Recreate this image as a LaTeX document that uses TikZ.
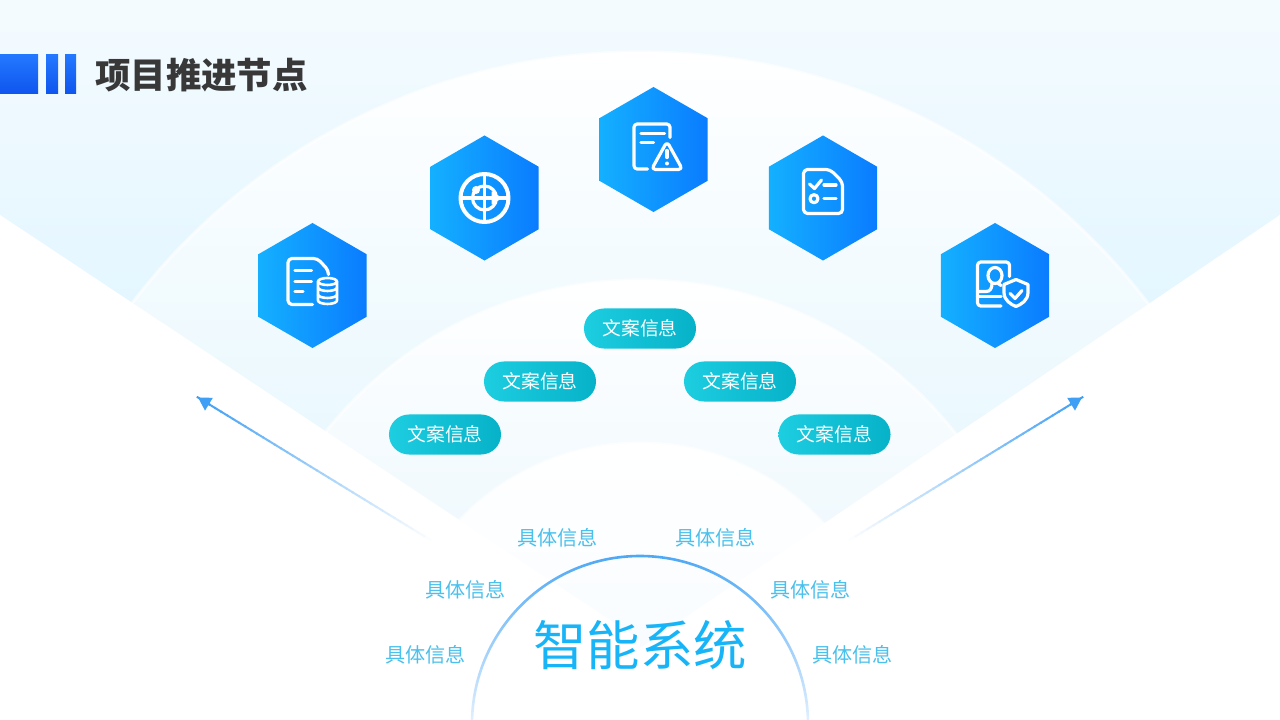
\documentclass[tikz,border=0pt]{standalone}
\usepackage{fontspec}
\newfontfamily\cjk{Noto Sans CJK SC}
\usetikzlibrary{shapes.geometric, shapes.misc, arrows.meta, calc}
\definecolor{sky}{HTML}{E3F6FF}
\definecolor{skytop}{HTML}{F4FBFF}
\definecolor{fanA}{HTML}{EAF8FE}
\definecolor{fanB}{HTML}{F0F9FE}
\definecolor{fanC}{HTML}{F8FCFF}
\definecolor{hexleft}{HTML}{14B0FF}
\definecolor{hexright}{HTML}{0A7CFF}
\definecolor{pillleft}{HTML}{1DCDE0}
\definecolor{pillright}{HTML}{06B2C8}
\definecolor{infotext}{HTML}{4AC0EC}
\definecolor{systext}{HTML}{18B4F8}
\definecolor{arrowblue}{HTML}{3F9FF5}
\definecolor{ringtop}{HTML}{4DA8F5}
\definecolor{ringbottom}{HTML}{E4F1FF}
\definecolor{bartop}{HTML}{2278FF}
\definecolor{barbottom}{HTML}{0F55EE}
\tikzset{
  hexbox/.style={regular polygon, regular polygon sides=6, regular polygon rotate=30,
    minimum size=3.125cm, inner sep=0pt, outer sep=0pt, left color=hexleft, right color=hexright},
  pillbox/.style={rounded rectangle, minimum width=2.8cm, minimum height=1cm, inner sep=0pt,
    left color=pillleft, right color=pillright, text=white,
    font=\cjk\fontsize{13.4}{16}\selectfont},
  infolabel/.style={text=infotext, inner sep=0pt, font=\cjk\fontsize{14.3}{17}\selectfont},
  iconline/.style={draw=white, line width=.08cm, line cap=round, line join=round},
  barbox/.style={top color=bartop, bottom color=barbottom},
  arrowbody/.style={line width=.05cm}
}

\begin{document}
\begin{tikzpicture}[x=.025cm, y=-.025cm]
\useasboundingbox (0, 0) rectangle (1280, 720);
\fill[white] (0, 0) rectangle (1280, 720);
\shade[top color=skytop, bottom color=sky] (0, 0) rectangle (1280, 320);
\foreach \cy/\rad/\ytop/\ybot/\colbot in {691/639/52/440/fanA, 681/401/280/530/fanB, 692/249/443/660/fanC} {
  \begin{scope}
    \clip (640, \cy) circle[radius=\rad];
    \shade[top color=white, bottom color=\colbot] (0, \ytop) rectangle (1280, \ybot);
  \end{scope}
  \draw[white, opacity=.6, line width=.08cm] (640, \cy) circle[radius=\rad];
}
\fill[white] (0, 215) -- (640, 640) -- (640, 648) -- (1280, 215) -- (1280, 720) -- (0, 720) -- cycle;

\shade[barbox] (0, 55) rectangle (38, 94);
\shade[barbox] (46, 55) rectangle (58, 94);
\shade[barbox] (65, 55) rectangle (76, 94);
\node[text=black!78, inner sep=0pt, font=\cjk\bfseries\fontsize{25.2}{30}\selectfont] at (201.5, 75) (title) {项目推进节点};

\node[hexbox] at (312.5, 285.5) (hexdata) {};
\node[hexbox] at (484.5, 198) (hextarget) {};
\node[hexbox] at (653.5, 149.5) (hexalert) {};
\node[hexbox] at (823, 198) (hexcheck) {};
\node[hexbox] at (995, 285.5) (hexuser) {};

\begin{scope}[shift={(hexdata)}]
\draw[iconline, rounded corners=.1cm] (0, 19) -- (-24.5, 19) -- (-24.5, -27) -- (5, -27) -- (16, -15) -- (16, -11);
\draw[iconline] (-17.5, -15) -- (-1, -15) (-17.5, -4) -- (-1, -4) (-17.5, 6) -- (-9.5, 6);
\draw[iconline, line width=.065cm] (15, -4) ellipse[x radius=9.5, y radius=3.5];
\draw[iconline, line width=.065cm] (5.5, -4) -- (5.5, 15) arc[start angle=180, end angle=0, x radius=9.5, y radius=3.5] -- (24.5, -4);
\draw[iconline, line width=.065cm] (5.5, 2) arc[start angle=180, end angle=0, x radius=9.5, y radius=3.5];
\draw[iconline, line width=.065cm] (5.5, 9) arc[start angle=180, end angle=0, x radius=9.5, y radius=3.5];
\end{scope}

\begin{scope}[shift={(hextarget)}]
\draw[iconline, line width=.1cm] (0, 0) circle[radius=24];
\draw[iconline] (0, 0) circle[radius=12];
\draw[iconline] (-24, 0) -- (24, 0) (0, -24) -- (0, 24);
\fill[white] (-8.5, -8) circle[radius=4];
\fill[white] (7, -6.5) -- (18, 0) -- (7, 6.5) -- cycle;
\end{scope}

\begin{scope}[shift={(hexalert)}]
\draw[iconline, rounded corners=.08cm] (-6, 19.5) -- (-19.5, 19.5) -- (-19.5, -25.5) -- (16.5, -25.5) -- (16.5, -12);
\draw[iconline] (-12.5, -16) -- (11, -16) (-12.5, -7) -- (0, -7);
\draw[iconline, rounded corners=.1cm] (13.5, -8) -- (29, 20) -- (-2, 20) -- cycle;
\draw[iconline] (13.5, 1) -- (13.5, 8);
\fill[white] (13.5, 14) circle[radius=2];
\end{scope}

\begin{scope}[shift={(hexcheck)}]
\draw[iconline, rounded corners=.1cm] (-19.5, -28.5) -- (7, -28.5) -- (19.5, -16) -- (19.5, 15.5) -- (-19.5, 15.5) -- cycle;
\draw[iconline] (-13.5, -14) -- (-8.5, -9.5) -- (-1.5, -18);
\draw[iconline] (1, -13) -- (13, -13) (1, .7) -- (13, .7);
\draw[iconline] (-9, .7) circle[radius=4];
\end{scope}

\begin{scope}[shift={(hexuser)}]
\draw[iconline, rounded corners=.08cm] (14.5, -9) -- (14.5, -23.5) -- (-17.5, -23.5) -- (-17.5, 20.5) -- (6, 20.5);
\draw[iconline] (-17.5, 11) -- (6, 11);
\draw[iconline] (0, -10) ellipse[x radius=7, y radius=8];
\draw[iconline] (-17.5, 6) -- (-9, 6) .. controls (-5, 6) and (-3, 3) .. (-3, -2);
\draw[iconline] (3, -2) -- (6, 0);
\draw[iconline] (21, -6) -- (33, -1) -- (33, 7) .. controls (33, 15) and (26, 19) .. (21, 21) .. controls (16, 19) and (9, 15) .. (9, 7) -- (9, -1) -- cycle;
\draw[iconline] (15, 8) -- (20, 13) -- (27, 5);
\end{scope}

\node[pillbox] at (640, 328.5) (pillA) {文案信息};
\node[pillbox] at (540, 381.5) (pillB) {文案信息};
\node[pillbox] at (740, 381.5) (pillC) {文案信息};
\node[pillbox] at (445, 434.5) (pillD) {文案信息};
\node[pillbox] at (834.5, 434.5) (pillE) {文案信息};

\coordinate (lefttail) at (437, 544);
\coordinate (lefttip) at (198, 397.5);
\coordinate (righttail) at (843, 544);
\coordinate (righttip) at (1082, 397.5);
\foreach \tail/\tip in {lefttail/lefttip, righttail/righttip} {
  \foreach \i in {0,...,39} {
    \pgfmathtruncatemacro\mixpct{\i*100/39}
    \draw[arrowbody, draw=arrowblue!\mixpct!white] ($(\tail)!\i/40!(\tip)$) -- ($(\tail)!\i/40+.03!(\tip)$);
  }
  \draw[arrowbody, draw=arrowblue, -{Triangle[length=.32cm, width=.36cm]}] ($(\tail)!.95!(\tip)$) -- (\tip);
}

\shade[top color=ringtop, bottom color=ringbottom] (470.7, 724) arc[start angle=180, end angle=360, radius=169.3] -- (806.7, 724) arc[start angle=360, end angle=180, radius=166.7] -- cycle;
\node[text=systext, inner sep=0pt, font=\cjk\fontsize{38}{46}\selectfont] at (640, 645) (system) {智能系统};

\node[infolabel] at (557.5, 537.5) (infoA) {具体信息};
\node[infolabel] at (715.5, 537.5) (infoB) {具体信息};
\node[infolabel] at (465.5, 589.5) (infoC) {具体信息};
\node[infolabel] at (810.5, 589.5) (infoD) {具体信息};
\node[infolabel] at (425.5, 654.5) (infoE) {具体信息};
\node[infolabel] at (852.5, 654.5) (infoF) {具体信息};
\end{tikzpicture}
\end{document}
